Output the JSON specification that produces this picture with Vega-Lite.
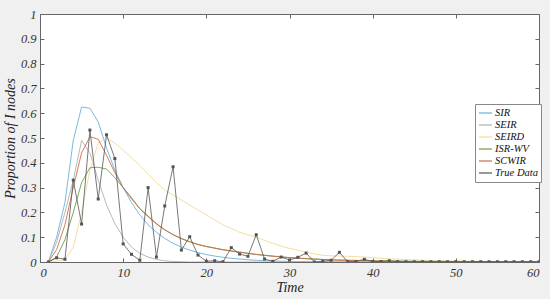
{
  "$schema": "https://vega.github.io/schema/vega-lite/v6.json",
  "width": 499,
  "height": 248,
  "autosize": {"type": "none"},
  "padding": {"left": 40, "top": 14, "right": 11, "bottom": 37},
  "background": "#f0f0f0",
  "config": {
    "view": {"fill": "white", "stroke": "#666", "strokeWidth": 1},
    "font": "Liberation Serif",
    "axis": {
      "labelFont": "Liberation Serif", "labelFontStyle": "italic", "labelFontSize": 12.5, "labelColor": "#333",
      "titleFont": "Liberation Serif", "titleFontStyle": "italic", "titleFontSize": 14, "titleFontWeight": "normal", "titleColor": "#222",
      "domainColor": "#666", "tickColor": "#666", "tickSize": -4, "labelPadding": 8, "grid": false
    },
    "legend": {
      "labelFont": "Liberation Serif", "labelFontStyle": "italic", "labelFontSize": 10.5, "labelColor": "#111"
    }
  },
  "datasets": {
    "models": [
      {"t":1,"v":0,"s":"SIR"},{"t":2,"v":0.1,"s":"SIR"},{"t":3,"v":0.24,"s":"SIR"},{"t":4,"v":0.49,"s":"SIR"},{"t":5,"v":0.625,"s":"SIR"},{"t":6,"v":0.62,"s":"SIR"},{"t":7,"v":0.565,"s":"SIR"},{"t":8,"v":0.46,"s":"SIR"},{"t":9,"v":0.37,"s":"SIR"},{"t":10,"v":0.3,"s":"SIR"},{"t":11,"v":0.24,"s":"SIR"},{"t":12,"v":0.19,"s":"SIR"},{"t":13,"v":0.15,"s":"SIR"},{"t":14,"v":0.12,"s":"SIR"},{"t":15,"v":0.095,"s":"SIR"},{"t":16,"v":0.075,"s":"SIR"},{"t":17,"v":0.06,"s":"SIR"},{"t":18,"v":0.048,"s":"SIR"},{"t":19,"v":0.038,"s":"SIR"},{"t":20,"v":0.03,"s":"SIR"},{"t":21,"v":0.024,"s":"SIR"},{"t":22,"v":0.019,"s":"SIR"},{"t":23,"v":0.015,"s":"SIR"},{"t":24,"v":0.012,"s":"SIR"},{"t":25,"v":0.009,"s":"SIR"},{"t":26,"v":0.007,"s":"SIR"},{"t":27,"v":0.005,"s":"SIR"},{"t":28,"v":0.004,"s":"SIR"},{"t":30,"v":0.002,"s":"SIR"},{"t":35,"v":0.0005,"s":"SIR"},{"t":60,"v":0,"s":"SIR"},
      {"t":1,"v":0,"s":"SEIR"},{"t":2,"v":0.08,"s":"SEIR"},{"t":3,"v":0.2,"s":"SEIR"},{"t":4,"v":0.33,"s":"SEIR"},{"t":5,"v":0.49,"s":"SEIR"},{"t":6,"v":0.44,"s":"SEIR"},{"t":7,"v":0.33,"s":"SEIR"},{"t":8,"v":0.23,"s":"SEIR"},{"t":9,"v":0.155,"s":"SEIR"},{"t":10,"v":0.1,"s":"SEIR"},{"t":11,"v":0.06,"s":"SEIR"},{"t":12,"v":0.035,"s":"SEIR"},{"t":13,"v":0.02,"s":"SEIR"},{"t":14,"v":0.01,"s":"SEIR"},{"t":15,"v":0.005,"s":"SEIR"},{"t":16,"v":0.002,"s":"SEIR"},{"t":18,"v":0,"s":"SEIR"},{"t":60,"v":0,"s":"SEIR"},
      {"t":1,"v":0,"s":"SEIRD"},{"t":2,"v":0.003,"s":"SEIRD"},{"t":3,"v":0.01,"s":"SEIRD"},{"t":4,"v":0.06,"s":"SEIRD"},{"t":5,"v":0.2,"s":"SEIRD"},{"t":6,"v":0.37,"s":"SEIRD"},{"t":7,"v":0.48,"s":"SEIRD"},{"t":8,"v":0.5,"s":"SEIRD"},{"t":9,"v":0.48,"s":"SEIRD"},{"t":10,"v":0.45,"s":"SEIRD"},{"t":11,"v":0.42,"s":"SEIRD"},{"t":12,"v":0.39,"s":"SEIRD"},{"t":13,"v":0.355,"s":"SEIRD"},{"t":14,"v":0.32,"s":"SEIRD"},{"t":15,"v":0.29,"s":"SEIRD"},{"t":16,"v":0.27,"s":"SEIRD"},{"t":17,"v":0.25,"s":"SEIRD"},{"t":18,"v":0.23,"s":"SEIRD"},{"t":19,"v":0.21,"s":"SEIRD"},{"t":20,"v":0.19,"s":"SEIRD"},{"t":21,"v":0.17,"s":"SEIRD"},{"t":22,"v":0.15,"s":"SEIRD"},{"t":23,"v":0.135,"s":"SEIRD"},{"t":24,"v":0.12,"s":"SEIRD"},{"t":25,"v":0.11,"s":"SEIRD"},{"t":26,"v":0.1,"s":"SEIRD"},{"t":27,"v":0.087,"s":"SEIRD"},{"t":28,"v":0.075,"s":"SEIRD"},{"t":29,"v":0.064,"s":"SEIRD"},{"t":30,"v":0.055,"s":"SEIRD"},{"t":31,"v":0.048,"s":"SEIRD"},{"t":32,"v":0.04,"s":"SEIRD"},{"t":33,"v":0.032,"s":"SEIRD"},{"t":34,"v":0.027,"s":"SEIRD"},{"t":35,"v":0.025,"s":"SEIRD"},{"t":36,"v":0.024,"s":"SEIRD"},{"t":37,"v":0.023,"s":"SEIRD"},{"t":38,"v":0.022,"s":"SEIRD"},{"t":39,"v":0.02,"s":"SEIRD"},{"t":40,"v":0.017,"s":"SEIRD"},{"t":42,"v":0.013,"s":"SEIRD"},{"t":44,"v":0.01,"s":"SEIRD"},{"t":46,"v":0.007,"s":"SEIRD"},{"t":48,"v":0.005,"s":"SEIRD"},{"t":50,"v":0.004,"s":"SEIRD"},{"t":55,"v":0.002,"s":"SEIRD"},{"t":60,"v":0.001,"s":"SEIRD"},
      {"t":1,"v":0,"s":"ISR-WV"},{"t":2,"v":0.02,"s":"ISR-WV"},{"t":3,"v":0.09,"s":"ISR-WV"},{"t":4,"v":0.2,"s":"ISR-WV"},{"t":5,"v":0.32,"s":"ISR-WV"},{"t":6,"v":0.38,"s":"ISR-WV"},{"t":7,"v":0.382,"s":"ISR-WV"},{"t":8,"v":0.375,"s":"ISR-WV"},{"t":9,"v":0.34,"s":"ISR-WV"},{"t":10,"v":0.3,"s":"ISR-WV"},{"t":11,"v":0.26,"s":"ISR-WV"},{"t":12,"v":0.215,"s":"ISR-WV"},{"t":13,"v":0.185,"s":"ISR-WV"},{"t":14,"v":0.155,"s":"ISR-WV"},{"t":15,"v":0.13,"s":"ISR-WV"},{"t":16,"v":0.11,"s":"ISR-WV"},{"t":17,"v":0.095,"s":"ISR-WV"},{"t":18,"v":0.082,"s":"ISR-WV"},{"t":19,"v":0.071,"s":"ISR-WV"},{"t":20,"v":0.063,"s":"ISR-WV"},{"t":22,"v":0.05,"s":"ISR-WV"},{"t":24,"v":0.04,"s":"ISR-WV"},{"t":26,"v":0.031,"s":"ISR-WV"},{"t":28,"v":0.024,"s":"ISR-WV"},{"t":30,"v":0.018,"s":"ISR-WV"},{"t":32,"v":0.014,"s":"ISR-WV"},{"t":35,"v":0.009,"s":"ISR-WV"},{"t":40,"v":0.005,"s":"ISR-WV"},{"t":45,"v":0.003,"s":"ISR-WV"},{"t":50,"v":0.002,"s":"ISR-WV"},{"t":60,"v":0.001,"s":"ISR-WV"},
      {"t":1,"v":0,"s":"SCWIR"},{"t":2,"v":0.05,"s":"SCWIR"},{"t":3,"v":0.15,"s":"SCWIR"},{"t":4,"v":0.3,"s":"SCWIR"},{"t":5,"v":0.44,"s":"SCWIR"},{"t":6,"v":0.505,"s":"SCWIR"},{"t":7,"v":0.495,"s":"SCWIR"},{"t":8,"v":0.43,"s":"SCWIR"},{"t":9,"v":0.36,"s":"SCWIR"},{"t":10,"v":0.3,"s":"SCWIR"},{"t":11,"v":0.255,"s":"SCWIR"},{"t":12,"v":0.215,"s":"SCWIR"},{"t":13,"v":0.183,"s":"SCWIR"},{"t":14,"v":0.153,"s":"SCWIR"},{"t":15,"v":0.13,"s":"SCWIR"},{"t":16,"v":0.11,"s":"SCWIR"},{"t":17,"v":0.094,"s":"SCWIR"},{"t":18,"v":0.081,"s":"SCWIR"},{"t":19,"v":0.07,"s":"SCWIR"},{"t":20,"v":0.062,"s":"SCWIR"},{"t":22,"v":0.049,"s":"SCWIR"},{"t":24,"v":0.039,"s":"SCWIR"},{"t":26,"v":0.03,"s":"SCWIR"},{"t":28,"v":0.023,"s":"SCWIR"},{"t":30,"v":0.017,"s":"SCWIR"},{"t":32,"v":0.013,"s":"SCWIR"},{"t":35,"v":0.008,"s":"SCWIR"},{"t":40,"v":0.004,"s":"SCWIR"},{"t":45,"v":0.002,"s":"SCWIR"},{"t":50,"v":0.001,"s":"SCWIR"},{"t":60,"v":0.0005,"s":"SCWIR"}
    ],
    "truth": [
      {"t":1,"v":0,"s":"True Data"},{"t":2,"v":0.017,"s":"True Data"},{"t":3,"v":0.011,"s":"True Data"},{"t":4,"v":0.33,"s":"True Data"},{"t":5,"v":0.153,"s":"True Data"},{"t":6,"v":0.532,"s":"True Data"},{"t":7,"v":0.254,"s":"True Data"},{"t":8,"v":0.513,"s":"True Data"},{"t":9,"v":0.417,"s":"True Data"},{"t":10,"v":0.073,"s":"True Data"},{"t":11,"v":0.031,"s":"True Data"},{"t":12,"v":0.007,"s":"True Data"},{"t":13,"v":0.3,"s":"True Data"},{"t":14,"v":0.02,"s":"True Data"},{"t":15,"v":0.226,"s":"True Data"},{"t":16,"v":0.384,"s":"True Data"},{"t":17,"v":0.048,"s":"True Data"},{"t":18,"v":0.102,"s":"True Data"},{"t":19,"v":0.028,"s":"True Data"},{"t":20,"v":0.003,"s":"True Data"},{"t":21,"v":0.005,"s":"True Data"},{"t":22,"v":0.001,"s":"True Data"},{"t":23,"v":0.058,"s":"True Data"},{"t":24,"v":0.032,"s":"True Data"},{"t":25,"v":0.023,"s":"True Data"},{"t":26,"v":0.11,"s":"True Data"},{"t":27,"v":0.012,"s":"True Data"},{"t":28,"v":0.003,"s":"True Data"},{"t":29,"v":0.02,"s":"True Data"},{"t":30,"v":0.008,"s":"True Data"},{"t":31,"v":0.019,"s":"True Data"},{"t":32,"v":0.036,"s":"True Data"},{"t":33,"v":0,"s":"True Data"},{"t":34,"v":0.003,"s":"True Data"},{"t":35,"v":0.007,"s":"True Data"},{"t":36,"v":0.039,"s":"True Data"},{"t":37,"v":0.001,"s":"True Data"},{"t":38,"v":0.002,"s":"True Data"},{"t":39,"v":0.011,"s":"True Data"},{"t":40,"v":0.002,"s":"True Data"},{"t":41,"v":0.002,"s":"True Data"},{"t":42,"v":0.005,"s":"True Data"},{"t":43,"v":0.001,"s":"True Data"},{"t":44,"v":0.001,"s":"True Data"},{"t":45,"v":0.001,"s":"True Data"},{"t":46,"v":0.001,"s":"True Data"},{"t":47,"v":0.001,"s":"True Data"},{"t":48,"v":0.001,"s":"True Data"},{"t":49,"v":0.001,"s":"True Data"},{"t":50,"v":0.001,"s":"True Data"},{"t":51,"v":0.001,"s":"True Data"},{"t":52,"v":0.001,"s":"True Data"},{"t":53,"v":0.001,"s":"True Data"},{"t":54,"v":0.001,"s":"True Data"},{"t":55,"v":0.001,"s":"True Data"},{"t":56,"v":0.001,"s":"True Data"},{"t":57,"v":0.001,"s":"True Data"},{"t":58,"v":0.001,"s":"True Data"},{"t":59,"v":0.001,"s":"True Data"},{"t":60,"v":0.001,"s":"True Data"}
    ]
  },
  "resolve": {"axis": {"x": "independent", "y": "independent"}},
  "layer": [
    {
      "data": {"name": "models"},
      "mark": {"type": "line", "strokeWidth": 0.9, "clip": true},
      "encoding": {
        "x": {"field": "t", "type": "quantitative", "scale": {"domain": [0, 60], "nice": false},
              "axis": {"values": [0,10,20,30,40,50,60], "title": "Time", "titlePadding": 2}},
        "y": {"field": "v", "type": "quantitative", "scale": {"domain": [0, 1], "nice": false},
              "axis": {"values": [0,0.1,0.2,0.3,0.4,0.5,0.6,0.7,0.8,0.9,1], "format": ".1~f", "title": "Proportion of I nodes", "titlePadding": 3}},
        "color": {"field": "s", "type": "nominal",
          "scale": {"domain": ["SIR","SEIR","SEIRD","ISR-WV","SCWIR","True Data"], "range": ["#6ab0df","#b0b0b0","#f2da98","#6f9c48","#cc6f4c","#555555"]},
          "legend": {"title": null, "orient": "none", "legendX": 435, "legendY": 90, "symbolType": "stroke", "symbolSize": 169, "symbolStrokeWidth": 1.2, "strokeColor": "#888", "fillColor": "white", "padding": 3, "rowPadding": 0, "clipHeight": 12, "labelOffset": 2}},
        "detail": {"field": "s"}
      }
    },
    {
      "data": {"name": "truth"},
      "mark": {"type": "line", "strokeWidth": 0.8, "clip": true, "point": {"filled": true, "shape": "square", "size": 9, "color": "black", "opacity": 1}},
      "encoding": {
        "x": {"field": "t", "type": "quantitative", "axis": {"orient": "top", "values": [0,10,20,30,40,50,60], "labels": false, "title": null, "domain": false}},
        "y": {"field": "v", "type": "quantitative", "axis": {"orient": "right", "values": [0,0.1,0.2,0.3,0.4,0.5,0.6,0.7,0.8,0.9,1], "labels": false, "title": null, "domain": false}},
        "color": {"field": "s", "type": "nominal"}
      }
    }
  ]
}
